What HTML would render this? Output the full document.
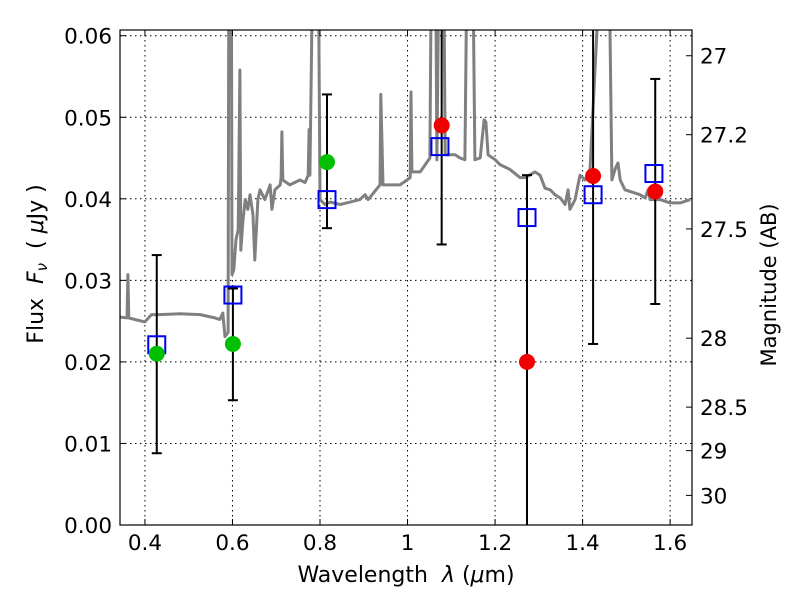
<!DOCTYPE html>
<html><head><meta charset="utf-8"><style>
body{margin:0;background:#fff}
svg text{font-family:"DejaVu Sans","Liberation Sans",sans-serif;fill:#000}
</style></head><body>
<svg id="chart" width="800" height="600">
<defs><clipPath id="pc"><rect x="120" y="30" width="572" height="495"/></clipPath></defs>
<rect x="0" y="0" width="800" height="600" fill="#fff"/>
<g id="grid"></g>
<g id="plot" clip-path="url(#pc)"></g>
<rect x="120" y="30" width="572" height="495" fill="none" stroke="#000" stroke-width="1.2"/>
<g id="axes"></g>
<text x="406" y="582" font-size="22" text-anchor="middle" xml:space="preserve">Wavelength  <tspan font-style="italic">λ</tspan> (<tspan font-style="italic">μ</tspan>m)</text>
<text transform="translate(43,264) rotate(-90)" font-size="22" text-anchor="middle" xml:space="preserve">Flux  <tspan font-style="italic">F<tspan font-size="15" dy="4">ν</tspan></tspan><tspan dy="-4">  ( </tspan><tspan font-style="italic">μ</tspan>Jy )</text>
<text transform="translate(776,285) rotate(-90)" font-size="21" text-anchor="middle">Magnitude (AB)</text>
</svg>
<script>
const specWave=[0.343,0.359,0.361,0.363,0.377,0.400,0.415,0.434,0.480,0.526,0.560,0.571,0.578,0.583,0.590,0.592,0.597,0.599,0.603,0.608,0.613,0.617,0.619,0.624,0.629,0.635,0.640,0.647,0.651,0.658,0.663,0.674,0.686,0.690,0.697,0.709,0.711,0.713,0.715,0.731,0.754,0.766,0.773,0.775,0.777,0.786,0.795,0.800,0.811,0.823,0.846,0.869,0.891,0.903,0.910,0.937,0.939,0.944,0.960,0.983,1.006,1.008,1.010,1.029,1.051,1.056,1.063,1.067,1.074,1.081,1.086,1.109,1.120,1.131,1.138,1.147,1.154,1.166,1.175,1.179,1.184,1.200,1.211,1.234,1.257,1.269,1.291,1.303,1.314,1.326,1.337,1.349,1.360,1.367,1.371,1.383,1.394,1.406,1.417,1.451,1.458,1.467,1.474,1.481,1.486,1.497,1.520,1.531,1.543,1.550,1.554,1.577,1.600,1.623,1.646];
const specFlux=[.0255,.0254,.0307,.0254,.0252,.0249,.0258,.0258,.0259,.0258,.0254,.0252,.0260,.0231,.0236,.08,.08,.0307,.0313,.0350,.0362,.0558,.0337,.0374,.0399,.0387,.0405,.0380,.0325,.0399,.0411,.0399,.0417,.0387,.0411,.0417,.0426,.0482,.0423,.0417,.0423,.0420,.0429,.0485,.0429,.08,.08,.0399,.0393,.0396,.0393,.0396,.0399,.0405,.0399,.0417,.0528,.0417,.0417,.0417,.0426,.0531,.0433,.0433,.0450,.08,.08,.0448,.08,.08,.0454,.0454,.0450,.0448,.08,.08,.0448,.0450,.0497,.0494,.0454,.0448,.0442,.0436,.0426,.0426,.0433,.0429,.0413,.0411,.0405,.0401,.0393,.0411,.0387,.0399,.0429,.0423,.0436,.08,.08,.0423,.0436,.0444,.0423,.0411,.0407,.0405,.0401,.0411,.0399,.0399,.0395,.0395,.0399];
const modelWave=[0.427,0.601,0.816,1.074,1.273,1.424,1.563];
const modelFlux=[.0221,.0282,.0399,.0464,.0377,.0405,.0431];
const greenWave=[0.427,0.601,0.816];
const greenFlux=[.0210,.0222,.0445];
const greenHi=[.0331,.0290,.0528];
const greenLo=[.0088,.0153,.0364];
const redWave=[1.078,1.273,1.424,1.566];
const redFlux=[.0490,.0200,.0428,.0409];
const redHi=[.08,.0429,.08,.0547];
const redLo=[.0344,-.01,.0222,.0271];
const xTicks=[0.4,0.6,0.8,1.0,1.2,1.4,1.6];
const xTickLabels=["0.4","0.6","0.8","1","1.2","1.4","1.6"];
const yTicks=[0,0.01,0.02,0.03,0.04,0.05,0.06];
const yTickLabels=["0.00","0.01","0.02","0.03","0.04","0.05","0.06"];
const magTicks=[27,27.2,27.5,28,28.5,29,30];
const magTickLabels=["27","27.2","27.5","28","28.5","29","30"];

const X0=120,X1=692,Y0=525,Y1=30,XMIN=0.343,XMAX=1.650,YMIN=0,YMAX=0.0607;
const sx=v=>X0+(v-XMIN)/(XMAX-XMIN)*(X1-X0);
const sy=v=>Y0-(v-YMIN)/(YMAX-YMIN)*(Y0-Y1);
const NS="http://www.w3.org/2000/svg";
function mk(tag,attrs,parent){const e=document.createElementNS(NS,tag);for(const k in attrs)e.setAttribute(k,attrs[k]);parent.appendChild(e);return e;}
const grid=document.getElementById('grid'),plot=document.getElementById('plot'),axes=document.getElementById('axes');

xTicks.forEach((t,i)=>{const x=sx(t);
 const g=mk('line',{x1:x,x2:x,y1:Y1,y2:Y0,stroke:'#000','stroke-dasharray':'1.5,3.5','stroke-width':1},grid);
 
 
 mk('line',{x1:x,x2:x,y1:Y0,y2:Y0-6,stroke:'#000'},axes);
 mk('line',{x1:x,x2:x,y1:Y1,y2:Y1+6,stroke:'#000'},axes);
 const tx=mk('text',{x:x,y:Y0+25,'font-size':21.5,'text-anchor':'middle'},axes);tx.textContent=xTickLabels[i];
 
 
});
yTicks.forEach((t,i)=>{const y=sy(t);
 const g=mk('line',{x1:X0,x2:X1,y1:y,y2:y,stroke:'#000','stroke-dasharray':'1.5,3.5','stroke-width':1},grid);
 
 
 mk('line',{x1:X0,x2:X0+6,y1:y,y2:y,stroke:'#000'},axes);
 const tx=mk('text',{x:X0-8,y:y+8,'font-size':21.5,'text-anchor':'end'},axes);tx.textContent=yTickLabels[i];
 
 
});
magTicks.forEach((m,i)=>{const f=Math.pow(10,(23.9-m)/2.5);const y=sy(f);
 mk('line',{x1:X1,x2:X1-6,y1:y,y2:y,stroke:'#000'},axes);
 const tx=mk('text',{x:X1+8,y:y+8,'font-size':21.5},axes);tx.textContent=magTickLabels[i];
 
 
});
const pts=specWave.map((w,i)=>sx(w).toFixed(1)+','+sy(specFlux[i]).toFixed(1)).join(' ');
const sp=mk('polyline',{points:pts,fill:'none',stroke:'#808080','stroke-width':3,'stroke-linejoin':'round'},plot);


function errbar(w,lo,hi){const x=sx(w);
 const l=mk('line',{x1:x,x2:x,y1:sy(hi),y2:sy(lo),stroke:'#000','stroke-width':2},plot);
 
 
 [hi,lo].forEach(v=>mk('line',{x1:x-5,x2:x+5,y1:sy(v),y2:sy(v),stroke:'#000','stroke-width':2},plot));
}
greenWave.forEach((w,i)=>errbar(w,greenLo[i],greenHi[i]));
redWave.forEach((w,i)=>errbar(w,redLo[i],redHi[i]));
modelWave.forEach((w,i)=>{
 const r=mk('rect',{x:sx(w)-8.5,y:sy(modelFlux[i])-8.5,width:17,height:17,fill:'none',stroke:'#0000ee','stroke-width':2},plot);
 
 
});
greenWave.forEach((w,i)=>{
 const c=mk('circle',{cx:sx(w),cy:sy(greenFlux[i]),r:8,fill:'#00c000'},plot);
 
 
});
redWave.forEach((w,i)=>{
 const c=mk('circle',{cx:sx(w),cy:sy(redFlux[i]),r:8,fill:'#f00000'},plot);
 
 
});
</script>
</body></html>
